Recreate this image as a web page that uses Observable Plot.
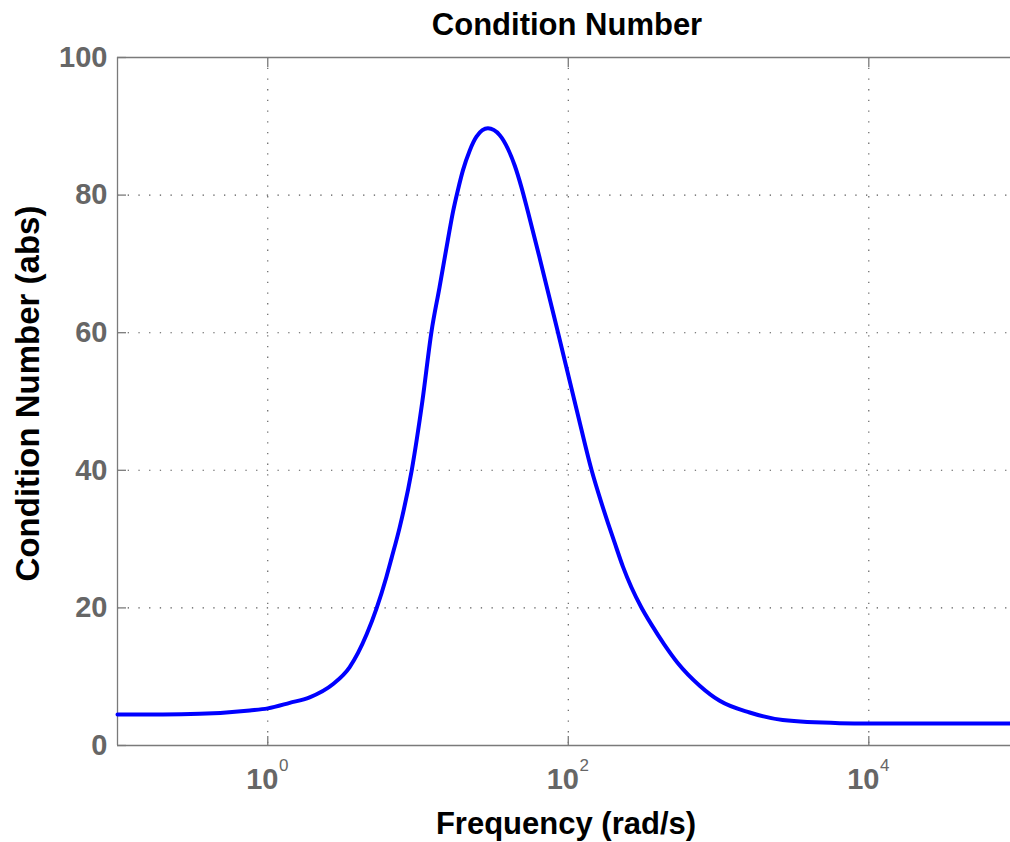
<!DOCTYPE html>
<html>
<head>
<meta charset="utf-8">
<script src="https://cdn.jsdelivr.net/npm/d3@7"></script>
<script src="https://cdn.jsdelivr.net/npm/@observablehq/plot@0.6"></script>
<style>
  html, body { margin: 0; padding: 0; background: #fff; }
  #chart svg { display: block; }
</style>
</head>
<body>
<div id="chart"></div>
<script>
// Frequency (rad/s) and condition number values
const freq = [0.1, 0.2, 0.353, 0.759, 1, 1.4, 1.9, 2.71, 3.51, 4.56,
  5.29, 6.16, 6.66, 7.55, 9.08, 10.7, 12.3, 13.9, 15.8, 17.1,
  18.5, 19.9, 22.1, 24.5, 29.2, 35.0, 39.7, 44.0, 48.7, 54.0,
  64.6, 85, 114, 143, 166, 184, 204, 231, 263, 306,
  357, 438, 535, 749, 1018, 1610, 2673, 6397, 10000, 87700];
const condNum = [4.5, 4.5, 4.6, 5.1, 5.4, 6.2, 7.0, 8.9, 11.4, 16.2,
  19.9, 24.5, 27.2, 31.7, 40.0, 50.1, 60.2, 66.6, 73.5, 77.6,
  80.9, 83.6, 86.5, 88.5, 89.7, 88.7, 86.7, 84.3, 81.2, 77.5,
  70.8, 60.2, 48.7, 40.0, 35.3, 32.3, 29.4, 26.0, 23.0, 20.1,
  17.6, 14.6, 12.0, 8.7, 6.5, 4.8, 3.7, 3.25, 3.2, 3.2];

const xTicks = [1, 100, 10000];
const xTickBase = ["10", "10", "10"];
const xTickExp = ["0", "2", "4"];
const yTicks = [0, 20, 40, 60, 80, 100];
const yGrid = [20, 40, 60, 80];
const xDomain = [0.1, 87700];
const yDomain = [0, 100];

const titleText = "Condition Number";
const xLabel = "Frequency (rad/s)";
const yLabel = "Condition Number (abs)";

const data = freq.map((f, i) => ({f, v: condNum[i]}));

const font = "'Liberation Sans', Arial, Helvetica, sans-serif";
const axisGray = "#7a7a7a";
const labelGray = "#666666";
const gridStyle = {stroke: "#555", strokeOpacity: 1, strokeWidth: 1.1, strokeDasharray: "1.3,9.4"};

const chart = Plot.plot({
  width: 1010,
  height: 842,
  marginLeft: 117,
  marginRight: 0,
  marginTop: 57,
  marginBottom: 97,
  style: {fontFamily: font, background: "#fff"},
  x: {type: "log", domain: xDomain, label: null},
  y: {domain: yDomain, label: null},
  marks: [
    Plot.gridX(xTicks, gridStyle),
    Plot.gridY(yGrid, gridStyle),
    Plot.ruleY([yDomain[0], yDomain[1]], {stroke: axisGray, strokeWidth: 1.3}),
    Plot.ruleX([xDomain[0]], {stroke: axisGray, strokeWidth: 1.3}),
    Plot.axisX(xTicks, {anchor: "bottom", label: null, tickSize: -9, tickFormat: () => "", stroke: axisGray, strokeWidth: 1.3}),
    Plot.axisX(xTicks, {anchor: "top", label: null, tickSize: -9, tickFormat: () => "", stroke: axisGray, strokeWidth: 1.3}),
    Plot.axisY(yTicks, {anchor: "left", label: null, tickSize: -9, tickPadding: 19, stroke: axisGray, strokeWidth: 1.3,
      fill: labelGray, fontSize: 29, fontWeight: "bold", tickFormat: d => String(d)}),
    Plot.text(xTicks, {x: d => d, frameAnchor: "bottom", lineAnchor: "middle", text: (d, i) => xTickBase[i],
      dx: -5.5, dy: 34, fill: labelGray, fontSize: 29, fontWeight: "bold"}),
    Plot.text(xTicks, {x: d => d, frameAnchor: "bottom", lineAnchor: "middle", text: (d, i) => xTickExp[i],
      dx: 16, dy: 20, fill: labelGray, fontSize: 17}),
    Plot.line(data, {x: "f", y: "v", stroke: "#0000ff", strokeWidth: 4, curve: "monotone-x"}),
    Plot.text([titleText], {frameAnchor: "top", lineAnchor: "middle", text: d => d, dy: -32, dx: 3,
      fill: "#000", fontSize: 31, fontWeight: "bold"}),
    Plot.text([xLabel], {frameAnchor: "bottom", lineAnchor: "middle", text: d => d, dy: 79, dx: 2,
      fill: "#000", fontSize: 31, fontWeight: "bold"}),
    Plot.text([yLabel], {frameAnchor: "left", textAnchor: "middle", lineAnchor: "middle", text: d => d, rotate: -90, dx: -89, dy: -8,
      fill: "#000", fontSize: 33, fontWeight: "bold"})
  ]
});
document.getElementById("chart").appendChild(chart);
</script>
</body>
</html>
